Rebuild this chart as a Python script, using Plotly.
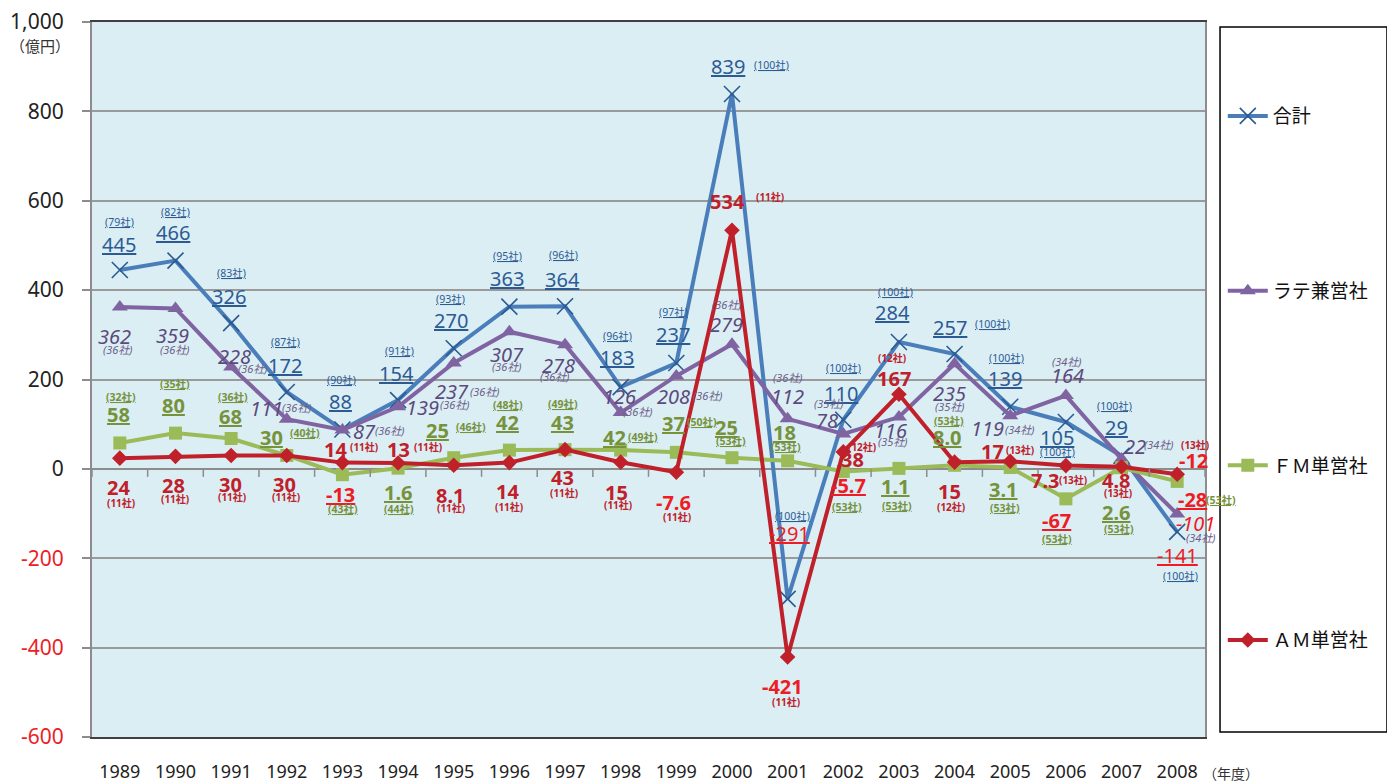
import plotly.graph_objects as go

years = list(range(1989, 2009))

# 合計
total = [445, 466, 326, 172, 88, 154, 270, 363, 364, 183, 237, 839, -291, 110, 284, 257, 139, 105, 29, -141]
total_cos = [79, 82, 83, 87, 90, 91, 93, 95, 96, 96, 97, 100, 100, 100, 100, 100, 100, 100, 100, 100]
# ラテ兼営社
rate = [362, 359, 228, 111, 87, 139, 237, 307, 278, 126, 208, 279, 112, 78, 116, 235, 119, 164, 22, -101]
rate_cos = [36, 36, 36, 36, 36, 36, 36, 36, 36, 36, 36, 36, 36, 35, 35, 35, 34, 34, 34, 34]
# FM単営社
fm = [58, 80, 68, 30, -13, 1.6, 25, 42, 43, 42, 37, 25, 18, -5.7, 1.1, 8.0, 3.1, -67, 2.6, -28]
fm_cos = [32, 35, 36, 40, 43, 44, 46, 48, 49, 49, 50, 53, 53, 53, 53, 53, 53, 53, 53, 53]
# AM単営社
am = [24, 28, 30, 30, 14, 13, 8.1, 14, 43, 15, -7.6, 534, -421, 38, 167, 15, 17, 7.3, 4.8, -12]
am_cos = [11, 11, 11, 11, 11, 11, 11, 11, 11, 11, 11, 11, 11, 12, 12, 12, 13, 13, 13, 13]

y_ticks = [1000, 800, 600, 400, 200, 0, -200, -400, -600]

# label offsets in pixels (dx, dy down) relative to each point
total_val_off = [(-1, -26), (-2, -28), (-2, -27), (-2, -27), (-2, -28), (-2, -27), (-3, -28), (-2, -28), (-3, -27), (-4, -30),
                 (-3, -28), (-4, -27), (2, -65), (-2, -26), (-6, -29), (-5, -27), (-5, -28), (-9, 16), (-5, -28), (0, 24)]
total_co_off = [(0, -48), (0, -49), (0, -50), (-1, -50), (-1, -50), (1, -49), (-3, -49), (-2, -51), (-2, -51), (-3, -51),
                (-3, -51), (40, -29), (5, -83), (0, -52), (-3, -50), (38, -30), (-4, -49), (-8, 30), (-7, -50), (3, 44)]
rate_val_off = [(-5, 29), (-3, 27), (3, -10), (-20, -11), (22, 1), (24, 1), (-2, 29), (-2, 23), (-7, 21), (-1, -16),
                (-3, 21), (-5, -20), (0, -22), (-16, -14), (-8, 13), (-5, 30), (-23, 13), (2, -20), (13, -13), (18, 9)]
rate_co_off = [(-2, 42), (0, 41), (22, 2), (10, -12), (48, 0), (57, -2), (31, 29), (-2, 35), (-10, 32), (17, -1),
               (32, 20), (-5, -40), (0, -41), (-14, -31), (-6, 24), (-5, 43), (10, 14), (1, -34), (37, -15), (24, 23)]
fm_val_off = [(-1, -28), (-2, -28), (-1, -22), (-15, -18), (-2, 20), (0, 24), (-16, -27), (-2, -28), (-3, -27), (-6, -13),
              (-3, -29), (-5, -30), (-3, -28), (5, 14), (-3, 18), (-7, -28), (-7, 22), (-9, 22), (-5, 45), (15, 18)]
fm_co_off = [(1, -46), (0, -49), (2, -41), (18, -22), (1, 34), (1, 41), (17, -31), (-1, -45), (-2, -46), (22, -13),
             (26, -30), (-1, -17), (-2, -14), (4, 36), (-2, 38), (-6, -44), (-5, 41), (-9, 40), (-3, 61), (44, 19)]
am_val_off = [(-1, 29), (-2, 29), (-1, 29), (-2, 29), (-7, -13), (0, -14), (-3, 30), (-2, 29), (-3, 28), (-4, 30),
              (-3, 30), (-4, -29), (-5, 29), (9, 8), (-5, -16), (-5, 29), (-18, -10), (-20, 15), (-5, 14), (16, -14)]
am_co_off = [(1, 45), (0, 43), (1, 42), (-1, 42), (22, -16), (30, -16), (-3, 43), (0, 44), (-1, 43), (-3, 43),
             (1, 45), (38, -33), (-2, 45), (19, -5), (-7, -36), (-4, 45), (10, -11), (7, 14), (-4, 26), (18, -29)]

FONT = "Noto Sans, Noto Sans CJK JP, sans-serif"
NEG = "#EE1C25"

series = [
    dict(name="合計", vals=total, cos=total_cos, voff=total_val_off, coff=total_co_off,
         line="#4A7EBB", marker=dict(symbol="x-thin", size=16, line=dict(color="#2B5A93", width=1.6)),
         txt="#2C5B94", ctxt="#2C5B94", vsize=20, csize=10.5, u=True, b=False, i=False),
    dict(name="ラテ兼営社", vals=rate, cos=rate_cos, voff=rate_val_off, coff=rate_co_off,
         line="#8064A2", marker=dict(symbol="triangle-up", size=14, color="#8064A2"),
         txt="#5B4A7C", ctxt="#6E5E8A", vsize=20, csize=11, u=False, b=False, i=True),
    dict(name="ＦＭ単営社", vals=fm, cos=fm_cos, voff=fm_val_off, coff=fm_co_off,
         line="#9BBB59", marker=dict(symbol="square", size=13, color="#9BBB59"),
         txt="#76923C", ctxt="#76923C", vsize=20, csize=10.5, u=True, b=True, i=False),
    dict(name="ＡＭ単営社", vals=am, cos=am_cos, voff=am_val_off, coff=am_co_off,
         line="#C0202A", marker=dict(symbol="diamond", size=12, color="#C0202A"),
         txt="#C0202A", ctxt="#C0202A", vsize=20, csize=10, u=False, b=True, i=False),
]


def fmt(v):
    return f"{v:.1f}" if isinstance(v, float) else str(v)


def wrap(t, s):
    if s["u"]:
        t = f"<u>{t}</u>"
    if s["b"]:
        t = f"<b>{t}</b>"
    if s["i"]:
        t = f"<i>{t}</i>"
    return t


fig = go.Figure()
annotations = []
for k, s in enumerate(series):
    fig.add_trace(go.Scatter(
        x=years, y=s["vals"], name=s["name"], mode="lines+markers",
        line=dict(color=s["line"], width=4), marker=s["marker"],
        legendgroup=f"g{k}",
    ))
    for yr, v, n, (vx, vy), (cx, cy) in zip(years, s["vals"], s["cos"], s["voff"], s["coff"]):
        color = NEG if v < 0 else s["txt"]
        annotations.append(dict(
            x=yr, y=v, xref="x", yref="y", xshift=vx, yshift=-vy, showarrow=False,
            text=wrap(fmt(v), s), font=dict(family=FONT, size=s["vsize"], color=color),
        ))
        annotations.append(dict(
            x=yr, y=v, xref="x", yref="y", xshift=cx, yshift=-cy, showarrow=False,
            text=wrap(f"({n}社)", s), font=dict(family=FONT, size=s["csize"], color=s["ctxt"]),
        ))

annotations.append(dict(x=0, y=1000, xref="paper", yref="y", xanchor="right", yanchor="middle",
                        xshift=-20, yshift=-24, showarrow=False, text="（億円）",
                        font=dict(family=FONT, size=15, color="#333")))
annotations.append(dict(x=2008, y=0, xref="x", yref="paper", xanchor="center", yanchor="middle",
                        xshift=54, yshift=-36, showarrow=False, text="（年度）",
                        font=dict(family=FONT, size=14, color="#333")))

shapes = []
# category tick marks on the zero line
for yr in years + [years[0] - 1]:
    shapes.append(dict(type="line", xref="x", yref="y", x0=yr + 0.5, x1=yr + 0.5,
                       ysizemode="pixel", yanchor=0, y0=0, y1=-8,
                       line=dict(color="#8C8C8C", width=1.5)))
# legend frame
shapes.append(dict(type="rect", xref="paper", yref="paper", x0=1.0135, x1=1.1635, y0=0.007, y1=0.993,
                   line=dict(color="#000", width=1.5), fillcolor="white", layer="below"))

tick_text = [f"{v:,}" if v >= 0 else f"<span style='color:{NEG}'>{v}</span>" for v in y_ticks]

# the page adds an 8px body margin, so the figure is 8px smaller each way
fig.update_layout(
    width=1387, height=774,
    margin=dict(l=84, r=190, t=14, b=45, autoexpand=False),
    paper_bgcolor="white", plot_bgcolor="#DBEEF4",
    font=dict(family=FONT, color="#222"),
    xaxis=dict(range=[1988.5, 2008.5], tickvals=years, showgrid=False, zeroline=False,
               showline=True, mirror=True, linecolor="#404040", linewidth=1.5,
               tickfont=dict(size=18, color="#222"), ticklabelstandoff=18,
               ticklabeloverflow="allow", automargin=False),
    yaxis=dict(range=[-600, 1000], tickvals=y_ticks, ticktext=tick_text,
               gridcolor="#9A9A9A", gridwidth=1.5, zeroline=True, zerolinecolor="#8C8C8C", zerolinewidth=2,
               showline=True, mirror=True, linecolor="#8C8C8C", linewidth=2,
               ticks="outside", ticklen=8, tickcolor="#8C8C8C", tickwidth=1.5,
               tickfont=dict(size=21, color="#222"), ticklabelstandoff=14,
               ticklabeloverflow="allow", automargin=False),
    legend=dict(x=1.016, y=0.895, xanchor="left", yanchor="top", bgcolor="rgba(0,0,0,0)",
                font=dict(family="Noto Sans CJK JP", size=19, color="#111"),
                tracegroupgap=147, itemwidth=40),
    showlegend=True,
    annotations=annotations,
    shapes=shapes,
)

fig.write_html("out.html")
